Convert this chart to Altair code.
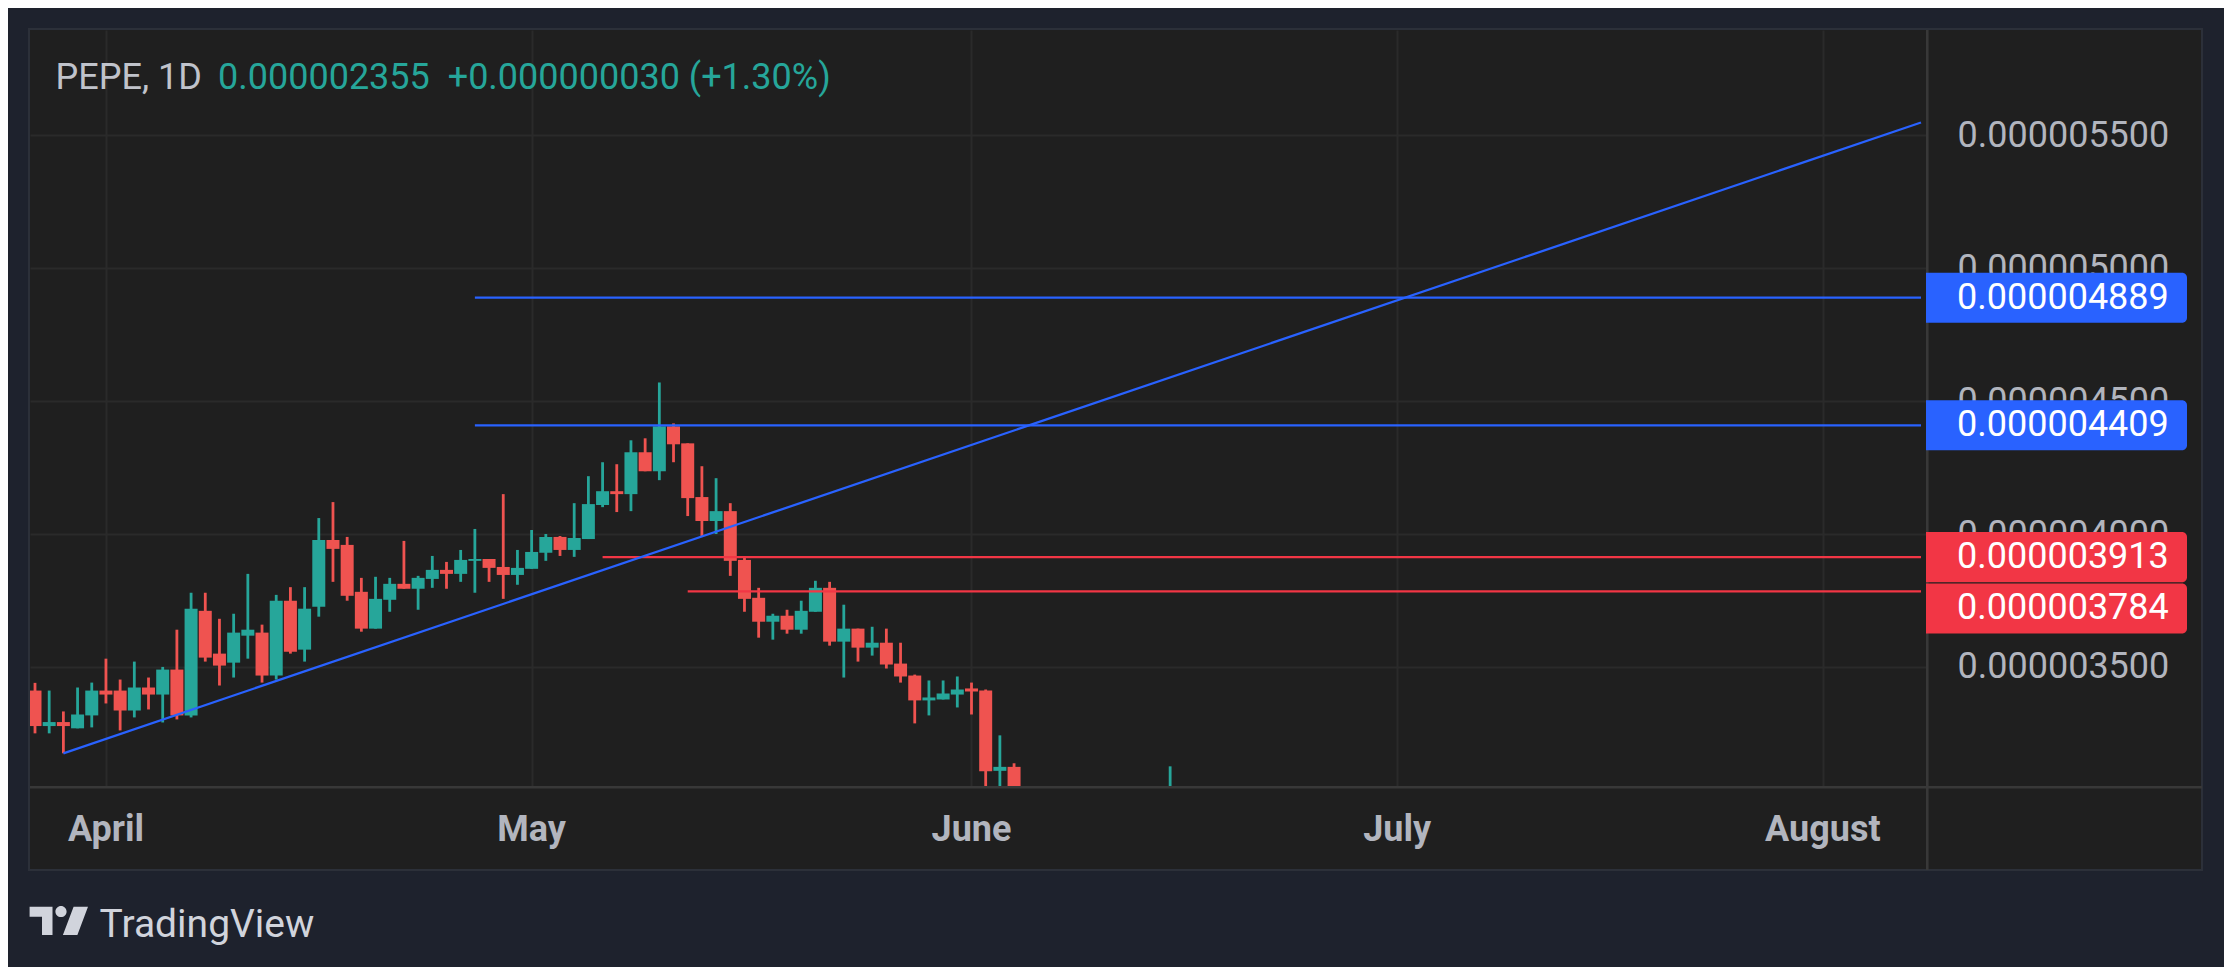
import altair as alt
import pandas as pd

# ---------------- data ----------------
dates = pd.date_range("2025-03-27", "2025-06-04", freq="D").strftime("%Y-%m-%d").tolist() + ["2025-06-15"]

opens = [3.411, 3.2775, 3.2925, 3.269, 3.3175,
         3.411, 3.411, 3.336, 3.4225, 3.396, 3.49, 3.3175, 3.711, 3.55, 3.516,
         3.6175, 3.629, 3.4675, 3.749, 3.565, 3.726, 3.9775, 3.959, 3.7825, 3.644,
         3.7525, 3.8125, 3.794, 3.831, 3.865, 3.85, 3.899, 3.906, 3.876, 3.846,
         3.869, 3.929, 3.989, 3.94, 3.981, 4.109, 4.161, 4.15, 4.3075, 4.236,
         4.405, 4.341, 4.139, 4.049, 4.086, 3.9025, 3.76, 3.67, 3.6925, 3.64,
         3.7075, 3.7975, 3.595, 3.644, 3.5725, 3.591, 3.5125, 3.4675, 3.374, 3.3775, 3.396,
         3.419, 3.411, 3.109, 3.124, 3.02]
highs = [3.44, 3.411, 3.3325, 3.4225, 3.441,
         3.531, 3.4525, 3.52, 3.46, 3.50, 3.64, 3.779, 3.779, 3.681, 3.70,
         3.85, 3.659, 3.771, 3.80, 3.80, 4.06, 4.12, 3.989, 3.835, 3.839,
         3.835, 3.974, 3.8425, 3.9175, 3.895, 3.94, 4.019, 3.906, 4.15, 3.94,
         4.015, 4.0, 3.9925, 4.116, 4.2175, 4.27, 4.2625, 4.3525, 4.36, 4.57,
         4.416, 4.341, 4.255, 4.21, 4.116, 3.914, 3.7975, 3.70, 3.715, 3.749,
         3.824, 3.82, 3.734, 3.644, 3.651, 3.644, 3.591, 3.471, 3.449, 3.449, 3.464,
         3.441, 3.415, 3.2425, 3.1375, 3.126]
lows = [3.25, 3.25, 3.175, 3.269, 3.2725,
        3.3625, 3.261, 3.31, 3.34, 3.291, 3.3025, 3.31, 3.52, 3.43, 3.46,
        3.531, 3.441, 3.4525, 3.55, 3.52, 3.689, 3.82, 3.749, 3.6325, 3.644,
        3.7075, 3.794, 3.715, 3.7975, 3.794, 3.82, 3.779, 3.82, 3.756, 3.809,
        3.869, 3.899, 3.9175, 3.914, 3.981, 4.101, 4.0825, 4.086, 4.236, 4.2025,
        4.27, 4.0675, 3.9925, 4.0, 3.8425, 3.7075, 3.61, 3.6025, 3.625, 3.625,
        3.7075, 3.58, 3.46, 3.52, 3.5425, 3.494, 3.441, 3.2875, 3.3175, 3.3775, 3.3475,
        3.321, 3.03, 3.03, 3.0, 2.99]
closes = [3.2775, 3.2925, 3.2775, 3.321, 3.411,
          3.396, 3.336, 3.4225, 3.396, 3.49, 3.3175, 3.719, 3.535, 3.505, 3.629,
          3.64, 3.4675, 3.749, 3.5575, 3.719, 3.9775, 3.944, 3.7675, 3.644, 3.756,
          3.8125, 3.794, 3.835, 3.865, 3.85, 3.9025, 3.906, 3.8725, 3.846, 3.8725,
          3.9325, 3.989, 3.94, 3.985, 4.1125, 4.161, 4.15, 4.3075, 4.236, 4.405,
          4.3375, 4.135, 4.049, 4.086, 3.899, 3.756, 3.67, 3.6925, 3.64, 3.711,
          3.7975, 3.595, 3.644, 3.5725, 3.591, 3.509, 3.464, 3.374, 3.385, 3.40, 3.415,
          3.4075, 3.1075, 3.124, 3.02, 3.05]

level_names = ["R1", "R2", "S1", "S2"]
level_kinds = ["resistance", "resistance", "support", "support"]
level_values = [4.889, 4.409, 3.913, 3.784]
level_starts = ["2025-04-27", "2025-04-27", "2025-05-06", "2025-05-12"]

trend_dates = ["2025-03-29", "2025-08-06T22:00:00Z"]
trend_values = [3.175, 5.548]

month_ticks = ["2025-04-01", "2025-05-01", "2025-06-01", "2025-07-01", "2025-07-31"]
month_labels = ["April", "May", "June", "July", "August"]

price_ticks = [3.5, 4.0, 4.5, 5.0, 5.5]

title_symbol = "PEPE, 1D"
title_price = "0.000002355"
title_change = "+0.000000030 (+1.30%)"

UNIT = 1e-6
domain_start = "2025-03-27T00:00:00Z"
domain_end = "2025-08-06T22:00:00Z"

# ---------------- styling ----------------
W, H = 1896, 756
GREEN = "#26a69a"
RED_C = "#ef5350"
BLUE = "#2962ff"
RED_L = "#f23645"
NAVY = "#1e222d"
PANE = "#1f1f1f"
GRID = "#2a2a2a"
SEP = "#383838"
TXT = "#b2b5be"
FONT = "Roboto"

candles = pd.DataFrame({
    "date": dates,
    "open": [v * UNIT for v in opens],
    "high": [v * UNIT for v in highs],
    "low": [v * UNIT for v in lows],
    "close": [v * UNIT for v in closes],
})
levels = pd.DataFrame({
    "name": level_names,
    "kind": level_kinds,
    "level": [v * UNIT for v in level_values],
    "start": level_starts,
    "end": [domain_end] * len(level_names),
})
trend = pd.DataFrame({"date": trend_dates, "value": [v * UNIT for v in trend_values]})
months = pd.DataFrame({"date": month_ticks, "label": month_labels})

x_scale = alt.Scale(type="utc", domain=[domain_start, domain_end], nice=False)
y_scale = alt.Scale(domain=[3.052 * UNIT, 5.896 * UNIT], nice=False, zero=False)

tick_ms = [int(pd.Timestamp(d, tz="UTC").value // 10**6) for d in month_ticks]
x_axis = alt.Axis(values=tick_ms, labels=False, ticks=False, tickSize=0, domain=False,
                  grid=True, gridColor=GRID, gridWidth=2, title=None)
y_axis = alt.Axis(values=[v * UNIT for v in price_ticks], orient="right", format=".9f",
                  labels=True, ticks=False, tickSize=0, domain=False, labelPadding=31,
                  labelAlign="left", labelBaseline="middle", labelFont=FONT,
                  labelFontSize=36, labelColor=TXT, labelLimit=500, grid=True,
                  gridColor=GRID, gridWidth=2, title=None, labelOverlap=False)


def X(field):
    return alt.X(field, type="temporal", scale=x_scale, axis=x_axis)


def Y(field):
    return alt.Y(field, type="quantitative", scale=y_scale, axis=y_axis)


one = alt.Data(values=[{}])


def px_rect(x, x2, y, y2, color):
    return alt.Chart(one).mark_rect(color=color, clip=False).encode(
        x=alt.value(x), x2=alt.value(x2), y=alt.value(y), y2=alt.value(y2))


up_down = alt.condition("datum.open <= datum.close", alt.value(GREEN), alt.value(RED_C))

base = alt.Chart(candles)
wicks = base.mark_rule(strokeWidth=2.8, clip=True).encode(
    x=X("date"), y=Y("low"), y2="high", color=up_down)
bodies = base.mark_bar(size=13, clip=True).encode(
    x=X("date"), y=Y("open"), y2="close", color=up_down)

level_color = alt.Color("kind:N", scale=alt.Scale(domain=["resistance", "support"],
                                                  range=[BLUE, RED_L]), legend=None)
lvl = alt.Chart(levels).transform_calculate(label="format(datum.level, '.9f')")
level_lines = lvl.mark_rule(strokeWidth=2.3, clip=True).encode(
    x=X("start"), x2="end", y=Y("level"), color=level_color)

trend_line = alt.Chart(trend).mark_line(strokeWidth=2.3, color=BLUE, clip=True).encode(
    x=X("date"), y=Y("value"))

box_path = ("M-1,-0.1916H0.9617A0.0383,0.0383,0,0,1,1,-0.1533V0.1533"
            "A0.0383,0.0383,0,0,1,0.9617,0.1916H-1Z")


def price_tag(nudge, flt):
    src = lvl.transform_filter(flt)
    box = src.mark_point(shape=box_path, size=68121, filled=True, opacity=1,
                         strokeWidth=0, clip=False, yOffset=nudge).encode(
        x=alt.value(2026.5), y=Y("level"), fill=level_color)
    txt = src.mark_text(align="left", baseline="middle", font=FONT, fontSize=36,
                        color="#ffffff", clip=False, yOffset=nudge).encode(
        x=alt.value(1927), y=Y("level"), text="label:N")
    return [box, txt]


tags = price_tag(0, "datum.name != 'S2'") + price_tag(17, "datum.name == 'S2'")

month_text = alt.Chart(months).mark_text(
    align="center", baseline="alphabetic", font=FONT, fontSize=36, fontWeight="bold",
    color=TXT, clip=False).encode(x=X("date"), y=alt.value(810.7), text="label:N")


def px_text(s, x, y, color, size=36, weight="normal"):
    return alt.Chart(alt.Data(values=[{"t": s}])).mark_text(
        align="left", baseline="alphabetic", font=FONT, fontSize=size,
        fontWeight=weight, color=color, clip=False).encode(
        x=alt.value(x), y=alt.value(y), text="t:N")


titles = [
    px_text(title_symbol, 25.6, 59.3, "#c0c3cb"),
    px_text(title_price, 188, 59.3, GREEN),
    px_text(title_change, 417.7, 59.3, GREEN),
]

logo_path = ("M-1.007,-0.486L-0.217,-0.486L-0.217,0.49L-0.579,0.49L-0.579,-0.141L-1.007,-0.141Z"
             "M-0.117,-0.321A0.193,0.193,0,1,0,0.269,-0.321A0.193,0.193,0,1,0,-0.117,-0.321Z"
             "M0.51,-0.486L1.007,-0.486L0.641,0.49L0.141,0.49Z")
logo = alt.Chart(one).mark_point(shape=logo_path, size=3364, filled=True, opacity=1,
                                 strokeWidth=0, color="#d1d4dc", clip=False).encode(
    x=alt.value(28.8), y=alt.value(890.8))
logo_text = px_text("TradingView", 69.6, 906.7, "#d1d4dc", size=39)

frame = [
    px_rect(-22, 2194, -22, -1, NAVY),
    px_rect(-22, -1, -22, 937, NAVY),
    px_rect(2172, 2194, -22, 937, NAVY),
    px_rect(-22, 2194, 840, 937, NAVY),
    alt.Chart(one).mark_rect(fillOpacity=0, stroke="#2c3039", strokeWidth=2, clip=False).encode(
        x=alt.value(-1), x2=alt.value(2172), y=alt.value(-1), y2=alt.value(840)),
]
separators = [
    alt.Chart(one).mark_rule(color=SEP, strokeWidth=2.6, clip=False).encode(
        x=alt.value(0), x2=alt.value(2172), y=alt.value(757.3)),
    alt.Chart(one).mark_rule(color=SEP, strokeWidth=2.6, clip=False).encode(
        x=alt.value(1897.3), y=alt.value(0), y2=alt.value(840)),
]

chart = alt.layer(
    wicks, bodies, level_lines, trend_line,
    *frame, *separators, *tags, month_text, *titles, logo, logo_text,
).properties(
    width=W, height=H,
    padding={"left": 22, "top": 22, "right": 298, "bottom": 181},
    autosize=alt.AutoSizeParams(type="none"),
    background=PANE,
).configure_view(strokeWidth=0)

chart.save("out.html", embed_options={"renderer": "svg", "actions": False})
